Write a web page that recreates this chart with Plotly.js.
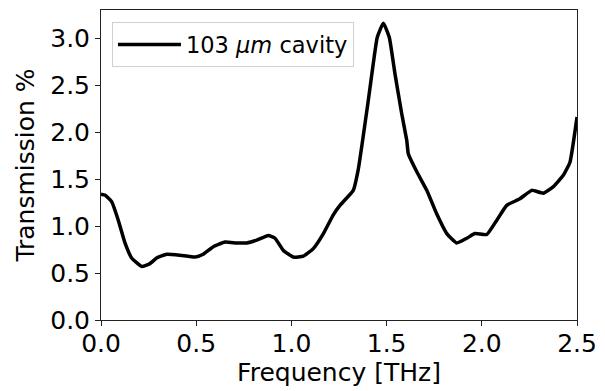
<!DOCTYPE html>
<html><head><meta charset="utf-8">
<script src="https://cdn.plot.ly/plotly-3.0.1.min.js"></script>
<style>html,body{margin:0;padding:0;background:#fff}#chart{width:605px;height:391px}</style>
</head><body><div id="chart"></div>
<script>
const freq = [0.0,0.02,0.056,0.091,0.126,0.161,0.214,0.257,0.292,0.345,0.415,0.494,0.537,0.59,0.651,0.713,0.765,0.818,0.879,0.914,0.958,1.01,1.063,1.115,1.168,1.22,1.255,1.325,1.351,1.374,1.404,1.43,1.451,1.483,1.514,1.544,1.579,1.606,1.614,1.658,1.711,1.763,1.816,1.868,1.921,1.964,2.026,2.078,2.131,2.2,2.262,2.323,2.376,2.428,2.463,2.5];
const transmission = [1.34,1.33,1.26,1.06,0.82,0.66,0.57,0.60,0.66,0.70,0.69,0.67,0.70,0.78,0.83,0.82,0.82,0.85,0.90,0.87,0.74,0.67,0.68,0.76,0.92,1.12,1.22,1.38,1.60,1.91,2.34,2.73,3.01,3.16,3.01,2.62,2.20,1.91,1.77,1.58,1.38,1.13,0.92,0.82,0.87,0.92,0.91,1.06,1.22,1.29,1.38,1.35,1.42,1.54,1.68,2.16];
const seriesName = '103 <i>μm</i> cavity';
const xTicks = [0,0.5,1,1.5,2,2.5];
const xTickText = ['0.0','0.5','1.0','1.5','2.0','2.5'];
const yTicks = [0,0.5,1,1.5,2,2.5,3];
const yTickText = ['0.0','0.5','1.0','1.5','2.0','2.5','3.0'];

const font = {family:'DejaVu Sans', size:25, color:'#000'};
const axisCommon = {showline:true, linecolor:'#222', linewidth:1, mirror:true, ticks:'outside', ticklen:5, tickcolor:'#222', showgrid:false, zeroline:false, tickfont:font};
Plotly.newPlot('chart', [{
  x: freq, y: transmission, mode:'lines', name: seriesName,
  line:{color:'#000', width:3.5, shape:'spline', smoothing:0.4}
}], {
  width:605, height:391,
  margin:{l:101, r:28, t:10, b:71},
  paper_bgcolor:'#fff', plot_bgcolor:'#fff',
  font: font,
  showlegend:true,
  legend:{x:0.023, y:0.96, xanchor:'left', yanchor:'top', bgcolor:'#fff', bordercolor:'#d0d0d0', borderwidth:1, itemwidth:63, font:{family:'DejaVu Sans', size:22.5, color:'#000'}},
  xaxis: Object.assign({range:[0,2.5], tickvals:xTicks, ticktext:xTickText, ticklabelstandoff:-4, title:{text:'Frequency [THz]', font:font, standoff:0}}, axisCommon),
  yaxis: Object.assign({range:[0,3.3], tickvals:yTicks, ticktext:yTickText, title:{text:'Transmission %', font:font, standoff:8}}, axisCommon)
}, {staticPlot:true});
</script></body></html>
